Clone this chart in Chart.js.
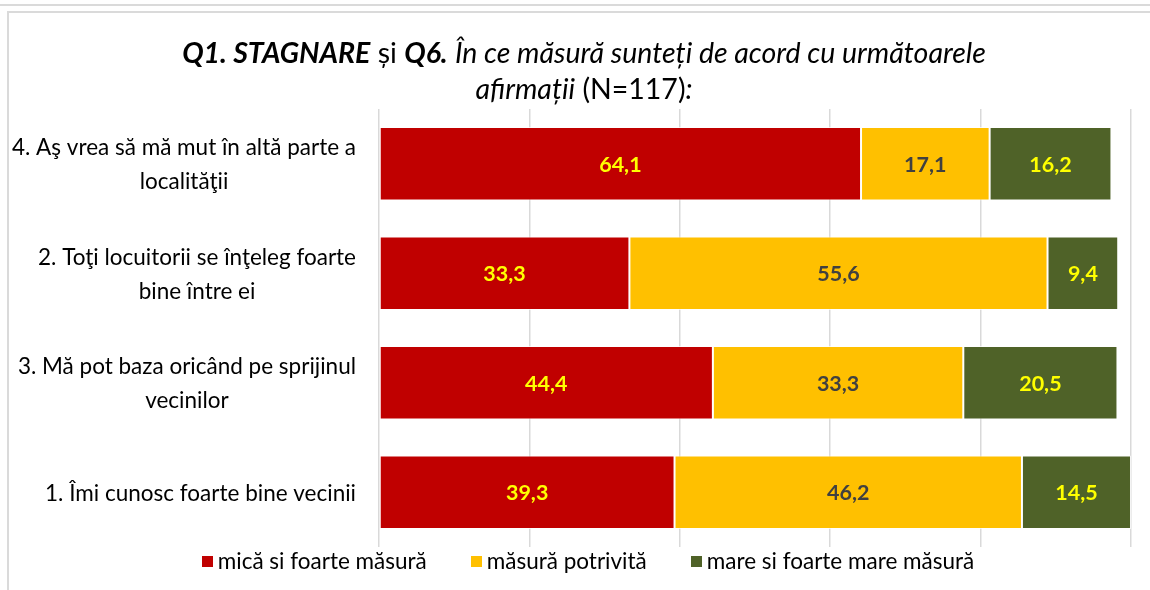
<!DOCTYPE html>
<html>
<head>
<meta charset="utf-8">
<script src="https://cdn.jsdelivr.net/npm/chart.js@4.4.1/dist/chart.umd.min.js"></script>
<style>
  html, body { margin: 0; padding: 0; background: #fff; }
  body { width: 1150px; height: 590px; position: relative; overflow: hidden; font-family: Lato, 'Open Sans', sans-serif; }
  .topline { position: absolute; left: 0; top: 4px; width: 1150px; height: 2px; background: #dadada; }
  .frame { position: absolute; left: 7px; top: 11px; width: 1160px; height: 600px; border: 2px solid #dadada; border-bottom: none; box-sizing: border-box; }
  .title { position: absolute; left: 8px; top: 34px; width: 1152px; text-align: center; font-size: 28.5px; line-height: 36px; color: #000; }
  #wrap { position: absolute; left: 0; top: 0; width: 1150px; height: 590px; }
  .legend { position: absolute; left: 0; top: 548px; width: 1176px; display: flex; justify-content: center; font-size: 22.5px; line-height: 26px; color: #000; }
  .legend span.item { display: inline-flex; align-items: center; margin: 0 22px; }
  .legend span.box { display: inline-block; width: 11px; height: 11px; margin-right: 5px; }
</style>
</head>
<body>
<div class="topline"></div>
<div class="frame"></div>
<div id="wrap"><canvas id="chart"></canvas></div>
<div class="title"><b><i>Q1. STAGNARE</i></b> și <b><i>Q6.</i></b> <i>În ce măsură sunteți de acord cu următoarele</i><br><i>afirmații</i> (N=117)<i>:</i></div>
<div class="legend" id="legend"></div>
<script>
// categories, top to bottom as in the picture
const categories = [
  ['4. Aş vrea să mă mut în altă parte a', 'localităţii'],
  ['2. Toţi locuitorii se înţeleg foarte', 'bine între ei'],
  ['3. Mă pot baza oricând pe sprijinul', 'vecinilor'],
  ['1. Îmi cunosc foarte bine vecinii']
];

const seriesNames = ['mică si foarte măsură', 'măsură potrivită', 'mare si foarte mare măsură'];
const lowValues  = [64.1, 33.3, 44.4, 39.3];
const midValues  = [17.1, 55.6, 33.3, 46.2];
const highValues = [16.2, 9.4, 20.5, 14.5];

const xTicks = [0, 20, 40, 60, 80, 100];

const COLORS = ['#C00000', '#FFC000', '#4F6228'];
const LABEL_COLORS = ['#FFFF00', '#404040', '#FFFF00'];
const FONT = "Lato, 'Open Sans', sans-serif";

// value labels inside each bar segment
const valueLabels = {
  id: 'valueLabels',
  afterDatasetsDraw(chart) {
    const { ctx } = chart;
    ctx.save();
    ctx.font = `bold 21.5px ${FONT}`;
    ctx.textAlign = 'center';
    ctx.textBaseline = 'middle';
    chart.data.datasets.forEach((ds, di) => {
      const meta = chart.getDatasetMeta(di);
      meta.data.forEach((bar, i) => {
        const p = bar.getProps(['x', 'y', 'base'], true);
        ctx.fillStyle = LABEL_COLORS[di];
        ctx.fillText(ds.data[i].toFixed(1).replace('.', ','), (p.x + p.base) / 2, p.y + 1);
      });
    });
    ctx.restore();
  }
};

// category labels: each block right-aligned, its lines centred (Excel style)
const categoryLabels = {
  id: 'categoryLabels',
  afterDraw(chart) {
    const { ctx } = chart;
    const y = chart.scales.y;
    const right = 356;
    const lineH = 34;
    ctx.save();
    ctx.font = `22.5px ${FONT}`;
    ctx.fillStyle = '#000';
    ctx.textAlign = 'center';
    ctx.textBaseline = 'middle';
    categories.forEach((lines, i) => {
      const w = Math.max(...lines.map(l => ctx.measureText(l).width));
      const cx = right - w / 2;
      const cy = y.getPixelForValue(i);
      const y0 = cy - (lines.length - 1) * lineH / 2;
      lines.forEach((l, k) => ctx.fillText(l, cx, y0 + k * lineH + 1));
    });
    ctx.restore();
  }
};

const datasets = [lowValues, midValues, highValues].map((vals, i) => ({
  label: seriesNames[i],
  data: vals,
  backgroundColor: COLORS[i],
  borderColor: 'rgba(255,255,255,0.7)',
  borderWidth: 1,
  borderSkipped: false,
  barPercentage: 0.67,
  categoryPercentage: 1
}));

new Chart(document.getElementById('chart').getContext('2d'), {
  type: 'bar',
  data: { labels: categories.map(l => l.join(' ')), datasets },
  options: {
    indexAxis: 'y',
    responsive: true,
    maintainAspectRatio: false,
    animation: false,
    layout: { padding: { left: 379, right: 19, top: 109, bottom: 43 } },
    plugins: {
      title: { display: false },
      tooltip: { enabled: false },
      legend: { display: false }
    },
    scales: {
      x: {
        stacked: true,
        min: 0,
        max: 100,
        afterBuildTicks: (axis) => { axis.ticks = xTicks.map(v => ({ value: v })); },
        ticks: { display: false },
        grid: { color: '#d9d9d9', lineWidth: 1.5, drawTicks: false },
        border: { display: false }
      },
      y: {
        stacked: true,
        ticks: { display: false },
        grid: { display: false, drawTicks: false },
        border: { display: false }
      }
    }
  },
  plugins: [valueLabels, categoryLabels]
});

// legend, built from the series names and colours
document.getElementById('legend').innerHTML = seriesNames.map((n, i) =>
  `<span class="item"><span class="box" style="background:${COLORS[i]}"></span>${n}</span>`
).join('');
</script>
</body>
</html>
